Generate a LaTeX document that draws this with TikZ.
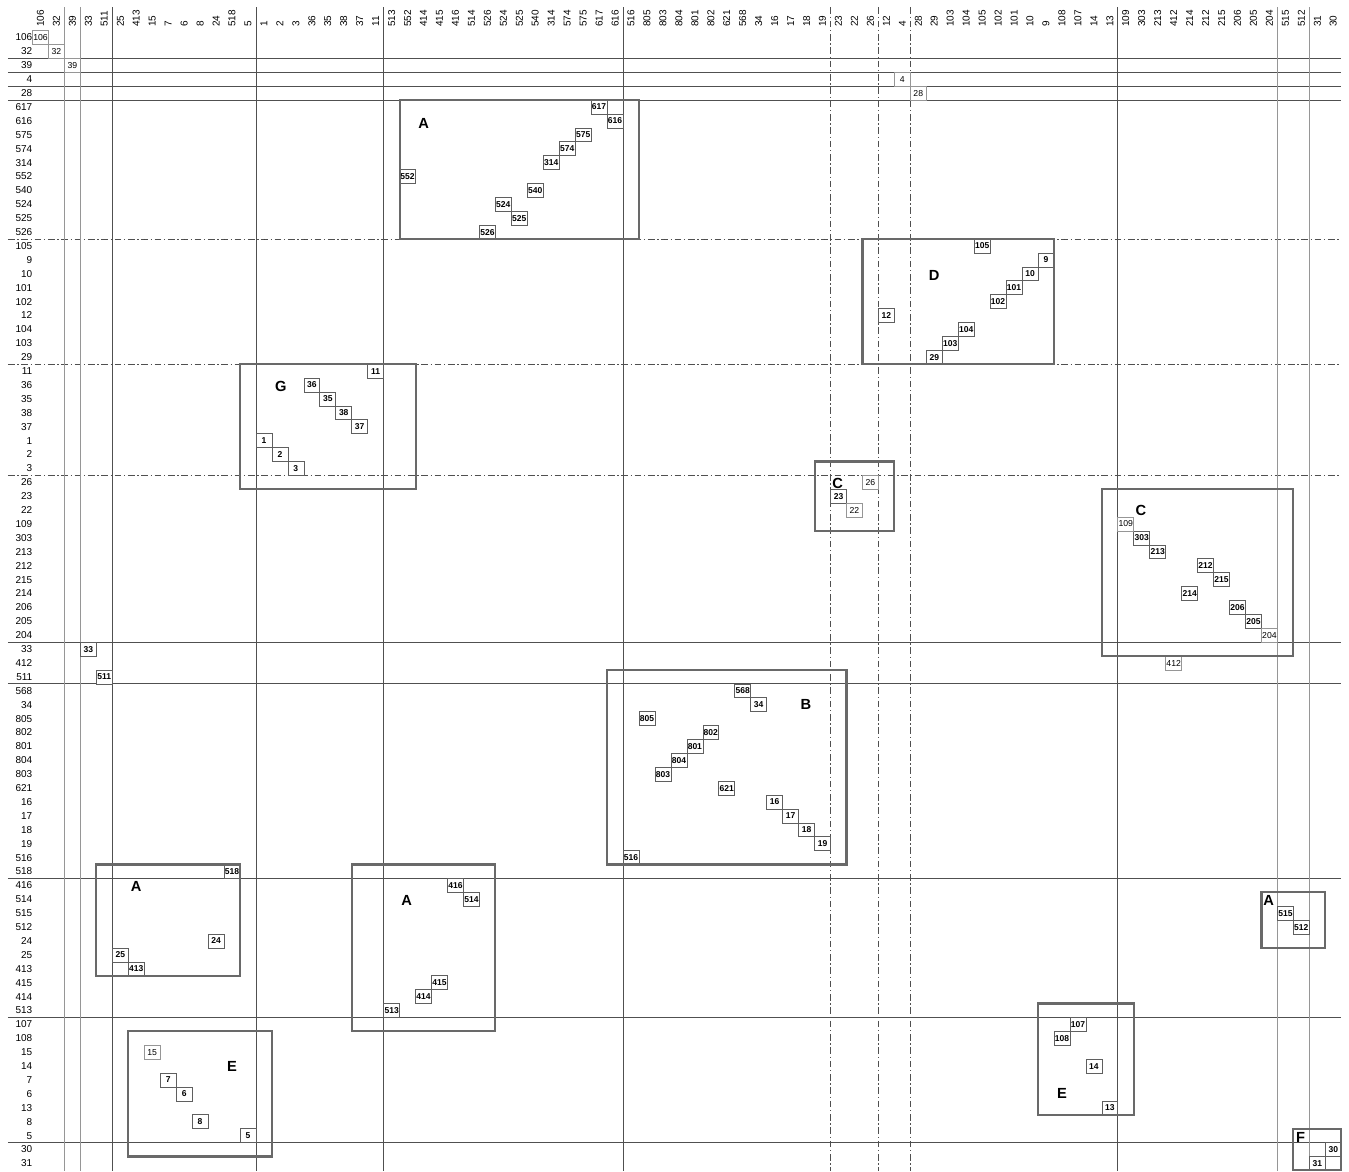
\documentclass[tikz,border=0pt]{standalone}
\usepackage{fontspec}
\setmainfont{Liberation Sans}
\definecolor{mxLine}{RGB}{80,80,80}
\definecolor{mxGrey}{RGB}{150,150,150}
\definecolor{mxGroup}{RGB}{105,105,105}
\definecolor{mxCell}{RGB}{95,95,95}
\begin{document}
\begin{tikzpicture}[
  x=11.97pt, y=-10.425pt,
  lbl/.style={font=\fontsize{7.5}{8}\selectfont, inner sep=0pt},
  cell/.style={draw=mxCell, fill=white, line width=0.5pt, minimum width=11.97pt, minimum height=10.425pt, inner sep=0pt, font=\fontsize{6.4}{7}\selectfont\bfseries},
  plaincell/.style={cell, draw=mxGrey, font=\fontsize{6.5}{7}\selectfont},
  grp/.style={draw=mxGroup, line width=1.6pt},
  grplbl/.style={font=\fontsize{11}{12}\selectfont\bfseries, inner sep=0pt},
  hline/.style={draw=mxLine, line width=0.6pt},
  vline/.style={draw=mxLine, line width=0.6pt},
  vgrey/.style={draw=mxGrey, line width=1.1pt},
  dd/.style={dash pattern=on 5pt off 2pt on 1pt off 2pt},
]
\useasboundingbox (-2.538,-2.698) rectangle (81.986,81.547);
% separators between row blocks
\foreach \y in {1.5,2.5,3.5,4.5,43.5,46.5,60.5,70.5,79.5}
  \draw[hline] (-2.04,\y) -- (81.5,\y);
\foreach \y in {14.5,23.5,31.5}
  \draw[hline, dd] (-2.04,\y) -- (81.5,\y);
% separators between column blocks
\foreach \x in {4.5,13.5,21.5,36.5,67.5}
  \draw[vline] (\x,-2.16) -- (\x,81.547);
\foreach \x in {1.5,2.5,77.5,79.5}
  \draw[vgrey] (\x,-2.16) -- (\x,81.547);
\foreach \x in {49.5,52.5,54.5}
  \draw[vline, dd] (\x,-2.16) -- (\x,81.547);
% column labels
\foreach \lab [count=\c from 0] in {106,32,39,33,511,25,413,15,7,6,8,24,518,5,1,2,3,36,35,38,37,11,513,552,414,415,416,514,526,524,525,540,314,574,575,617,616,516,805,803,804,801,802,621,568,34,16,17,18,19,23,22,26,12,4,28,29,103,104,105,102,101,10,9,108,107,14,13,109,303,213,412,214,212,215,206,205,204,515,512,31,30} {
  \node[lbl, rotate=90, anchor=west] (c\lab) at (\c,-0.75) {\lab};
  \expandafter\xdef\csname mxc\lab\endcsname{\c}
}
% row labels
\foreach \lab [count=\r from 0] in {106,32,39,4,28,617,616,575,574,314,552,540,524,525,526,105,9,10,101,102,12,104,103,29,11,36,35,38,37,1,2,3,26,23,22,109,303,213,212,215,214,206,205,204,33,412,511,568,34,805,802,801,804,803,621,16,17,18,19,516,518,416,514,515,512,24,25,413,415,414,513,107,108,15,14,7,6,13,8,5,30,31} {
  \node[lbl, anchor=east] (r\lab) at (-0.5,\r) {\lab};
  \expandafter\xdef\csname mxr\lab\endcsname{\r}
}
% diagonal cells
\foreach \lab in {617,616,575,574,314,552,540,524,525,526,105,9,10,101,102,12,104,103,29,11,36,35,38,37,1,2,3,23,303,213,212,215,214,206,205,33,511,568,34,805,802,801,804,803,621,16,17,18,19,516,518,416,514,515,512,24,25,413,415,414,513,107,108,14,7,6,13,8,5,30,31} {
  \edef\mxcc{\csname mxc\lab\endcsname}\edef\mxrr{\csname mxr\lab\endcsname}
  \node[cell] (b\lab) at (\mxcc,\mxrr) {\lab};
}
\foreach \lab in {106,32,39,4,28,26,22,109,204,412,15} {
  \edef\mxcc{\csname mxc\lab\endcsname}\edef\mxrr{\csname mxr\lab\endcsname}
  \node[plaincell] (b\lab) at (\mxcc,\mxrr) {\lab};
}
% groups
\draw[grp] (22.5,4.5) rectangle (37.5,14.5);
\node[grplbl] (gA1) at (24,6.2) {A};
\draw[grp] (51.5,14.5) rectangle (63.5,23.5);
\node[grplbl] (gD) at (56,17.1) {D};
\draw[grp] (12.5,23.5) rectangle (23.5,32.5);
\node[grplbl] (gG) at (15.05,25.1) {G};
\draw[grp] (48.5,30.5) rectangle (53.5,35.5);
\node[grplbl] (gC1) at (49.95,32.05) {C};
\draw[grp] (66.5,32.5) rectangle (78.5,44.5);
\node[grplbl] (gC2) at (68.95,34.05) {C};
\draw[grp] (35.5,45.5) rectangle (50.5,59.5);
\node[grplbl] (gB) at (47.95,48) {B};
\draw[grp] (3.5,59.5) rectangle (12.5,67.5);
\node[grplbl] (gA2) at (6,61.05) {A};
\draw[grp] (19.5,59.5) rectangle (28.5,71.5);
\node[grplbl] (gA3) at (22.95,62.05) {A};
\draw[grp] (76.5,61.5) rectangle (80.5,65.5);
\node[grplbl] (gA4) at (76.95,62.05) {A};
\draw[grp] (5.5,71.5) rectangle (14.5,80.5);
\node[grplbl] (gE1) at (12,74.05) {E};
\draw[grp] (62.5,69.5) rectangle (68.5,77.5);
\node[grplbl] (gE2) at (64,76) {E};
\draw[grp] (78.5,78.5) rectangle (81.5,81.5);
\node[grplbl] (gF) at (78.95,79.1) {F};
\end{tikzpicture}
\end{document}
